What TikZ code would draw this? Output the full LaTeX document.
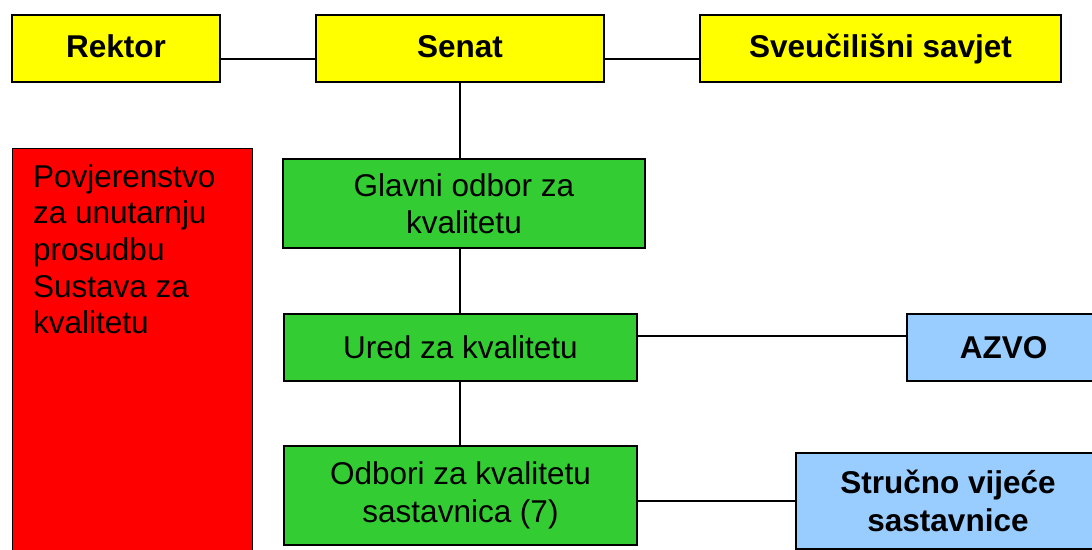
\documentclass[tikz,border=0pt]{standalone}
\usepackage{fontspec}
\setmainfont{Liberation Sans}
\definecolor{boxyellow}{HTML}{FFFF00}
\definecolor{boxred}{HTML}{FF0000}
\definecolor{boxgreen}{HTML}{33CC33}
\definecolor{boxblue}{HTML}{99CCFF}
\begin{document}
\begin{tikzpicture}[x=1pt,y=-1pt,
  box/.style={draw=black, line width=1.3pt, inner sep=0pt, align=center,
    font=\fontsize{31.5}{37.5}\selectfont},
  topbox/.style={box, fill=boxyellow, font=\fontsize{31.5}{37.5}\selectfont\bfseries, minimum height=67pt,
    text height=23pt, text depth=5.4pt},
  greenbox/.style={box, fill=boxgreen},
  bluebox/.style={box, fill=boxblue, font=\fontsize{31.5}{37.5}\selectfont\bfseries},
  conn/.style={draw=black, line width=1.1pt}]
\useasboundingbox (0,0) rectangle (1092,549);
% top row
\node[topbox, minimum width=208pt] (rektor) at (116,48.5) {Rektor};
\node[topbox, minimum width=288pt] (senat) at (460,48.5) {Senat};
\node[topbox, minimum width=361pt] (savjet) at (880.5,48.5) {Sveučilišni savjet};
% red box
\node[box, fill=boxred, minimum width=240pt, minimum height=420pt, anchor=north west] (pov) at (12,148) {};
\node[anchor=north west, inner sep=0pt, align=left, font=\fontsize{31.5}{36.7}\selectfont] (povtext) at (33,164)
  {Povjerenstvo\\za unutarnju\\prosudbu\\Sustava za\\kvalitetu};
% green boxes
\node[greenbox, minimum width=362pt, minimum height=89pt] (glavni) at (464,203.5) {Glavni odbor za\\kvalitetu};
\node[greenbox, minimum width=353pt, minimum height=67pt] (ured) at (460.5,347.5) {Ured za kvalitetu};
\node[greenbox, minimum width=353pt, minimum height=99pt] (odbori) at (460.5,495.5) {Odbori za kvalitetu\\sastavnica (7)};
% blue boxes
\node[bluebox, minimum width=193pt, minimum height=67pt] (azvo) at (1003.5,347.5) {AZVO};
\node[bluebox, minimum width=304pt, minimum height=96pt] (strucno) at (948,501) {Stručno vijeće\\sastavnice};
% connectors
\path (senat.west) ++(0,10.5) coordinate (sw);
\draw[conn] (rektor.east |- sw) -- (sw);
\path (senat.east) ++(0,10.5) coordinate (se);
\draw[conn] (se) -- (savjet.west |- se);
\path (senat.south) coordinate (ss);
\draw[conn] (ss) -- (ss |- glavni.north);
\draw[conn] (ss |- glavni.south) -- (ss |- ured.north);
\draw[conn] (ss |- ured.south) -- (ss |- odbori.north);
\path (ured.east) ++(0,-11.5) coordinate (ue);
\draw[conn] (ue) -- (azvo.west |- ue);
\path (odbori.east) ++(0,5.5) coordinate (oe);
\draw[conn] (oe) -- (strucno.west |- oe);
\end{tikzpicture}
\end{document}
